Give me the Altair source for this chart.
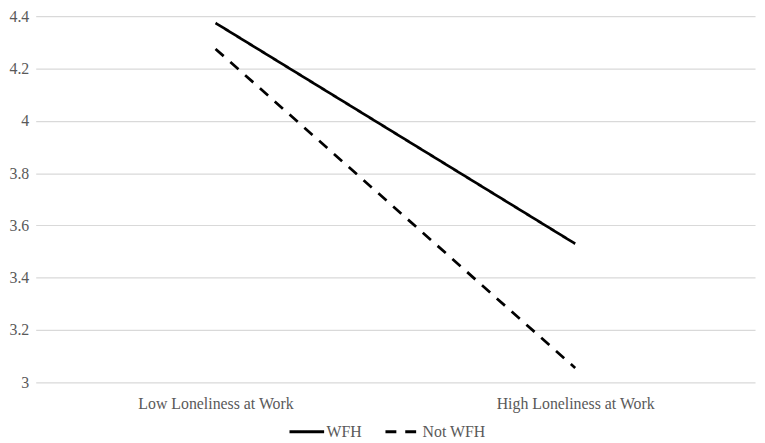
import altair as alt
import pandas as pd

categories = ["Low Loneliness at Work", "High Loneliness at Work"]
wfh = [4.374, 3.53]
not_wfh = [4.275, 3.055]
series_names = ["WFH", "Not WFH"]
y_ticks = [3.0, 3.2, 3.4, 3.6, 3.8, 4.0, 4.2, 4.4]

rows = []
for name, vals in zip(series_names, [wfh, not_wfh]):
    for i, (c, v) in enumerate(zip(categories, vals)):
        rows.append({"cat": c, "val": v, "series": name, "order": i})
df = pd.DataFrame(rows)

FONT = "Liberation Serif"
GRAY = "#595959"

chart = alt.Chart(df).mark_line(strokeWidth=2.75, color="black", strokeCap="butt").encode(
    x=alt.X("cat:N", sort=categories, scale=alt.Scale(type="point", padding=0.5),
            axis=alt.Axis(title=None, labelAngle=0, domain=False, ticks=False, grid=False,
                          labelPadding=13, labelFontSize=16, labelFont=FONT, labelColor=GRAY)),
    y=alt.Y("val:Q", scale=alt.Scale(domain=[3, 4.4], nice=False, zero=False),
            axis=alt.Axis(title=None, values=y_ticks, format="~g", domain=False, ticks=False,
                          labelPadding=7, labelFontSize=16, labelFont=FONT, labelColor=GRAY,
                          gridColor="#d9d9d9", gridWidth=1.2)),
    strokeDash=alt.StrokeDash("series:N", sort=series_names,
                              scale=alt.Scale(domain=series_names, range=[[1, 0], [11, 9]]),
                              legend=alt.Legend(title=None, orient="none", direction="horizontal",
                                                legendX=255, legendY=401, symbolType="stroke",
                                                symbolSize=1225, symbolStrokeWidth=3,
                                                symbolStrokeColor="black", labelOffset=1,
                                                columnPadding=17, labelFontSize=16, labelFont=FONT,
                                                labelColor=GRAY, padding=0)),
    detail="series:N",
    order="order:Q",
).properties(
    width=727, height=370,
    autosize=alt.AutoSizeParams(type="none"),
    padding={"left": 28, "top": 6, "right": 2, "bottom": 56},
).configure_view(stroke=None)

chart.save("out.html", embed_options={"renderer": "svg", "actions": False})
